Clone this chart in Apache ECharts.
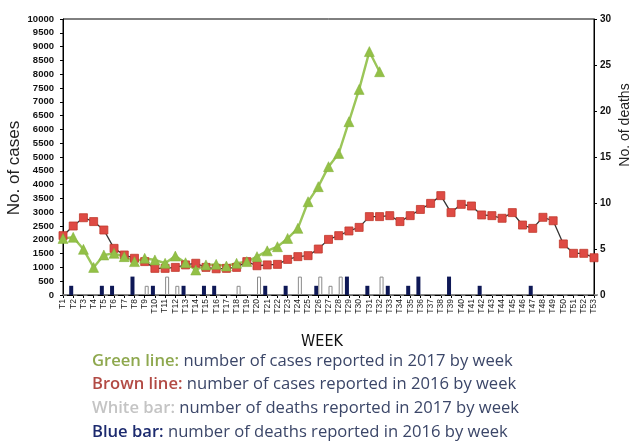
<!DOCTYPE html>
<html><head><meta charset="utf-8">
<script src="https://cdn.jsdelivr.net/npm/echarts@6/dist/echarts.min.js"></script>
<style>html,body{margin:0;padding:0;background:#fff}#c{width:636px;height:444px}</style>
</head><body><div id="c"></div>
<script>
const weeks = Array.from({length:53},(_,i)=>'T'+(i+1));
const cases2017 = [2050,2090,1655,1000,1450,1510,1390,1210,1330,1270,1150,1410,1170,905,1090,1110,1050,1150,1210,1390,1600,1750,2050,2415,3380,3925,4650,5130,6280,7450,8820,8090];
const cases2016 = [2150,2500,2800,2660,2355,1690,1450,1330,1210,965,965,1000,1090,1150,1000,950,965,1000,1210,1060,1090,1110,1290,1390,1425,1665,2015,2150,2320,2450,2840,2840,2875,2660,2875,3100,3320,3600,2985,3285,3225,2900,2875,2780,2985,2535,2415,2815,2690,1850,1510,1510,1350];
const deaths2017 = [0,0,0,0,0,0,0,0,1,0,2,1,0,0,0,0,0,1,0,2,0,0,0,2,0,2,1,2,0,0,0,2,0,0,0,0,0,0,0,0,0,0,0,0,0,0,0,0,0,0,0,0,0];
const deaths2016 = [0,1,0,0,1,1,0,2,0,1,0,0,1,0,1,1,0,0,0,0,1,0,1,0,0,1,0,0,2,0,1,0,1,0,1,2,0,0,2,0,0,1,0,0,0,0,1,0,0,0,0,0,0];
const caseTicks = {min:0,max:10000,interval:500};
const deathTicks = {min:0,max:30,interval:5};
const legendLines = [
  ['Green line:', ' number of cases reported in 2017 by week', '#8ea84e'],
  ['Brown line:', ' number of cases reported in 2016 by week', '#b24a44'],
  ['White bar:', ' number of deaths reported in 2017 by week', '#c4c4c4'],
  ['Blue bar:', ' number of deaths reported in 2016 by week', '#1c2a6e']
];

const chart = echarts.init(document.getElementById('c'), null, {renderer:'canvas'});
const graphics = [
  {type:'text', x:14, y:168, rotation:Math.PI/2, style:{text:'No. of cases', font:'17px "Liberation Sans", Arial', fill:'#222', align:'center', verticalAlign:'middle'}},
  {type:'text', x:625, y:125, rotation:Math.PI/2, style:{text:'No. of deaths', font:'14px "Liberation Sans", Arial', fill:'#222', align:'center', verticalAlign:'middle'}},
  {type:'text', x:322, y:342, style:{text:'WEEK', font:'16px "Liberation Sans Narrow", "DejaVu Sans Condensed", sans-serif', fill:'#111', align:'center', verticalAlign:'middle'}}
];
legendLines.forEach((l,i)=>{
  graphics.push({type:'text', x:92, y:361+i*23.7, style:{
    text:'{a|'+l[0]+'}{b|'+l[1]+'}',
    verticalAlign:'middle',
    rich:{
      a:{fill:l[2], font:'600 16.6px "Open Sans", sans-serif'},
      b:{fill:'#3b4668', font:'16.6px "Open Sans", sans-serif'}
    }}});
});

chart.setOption({
  animation:false,
  backgroundColor:'#fff',
  grid:{left:63, right:42, top:19, bottom:149, show:true, borderColor:'#000', borderWidth:1, backgroundColor:'transparent'},
  xAxis:{type:'category', data:weeks, boundaryGap:false,
    axisLine:{lineStyle:{color:'#000', width:1}},
    axisTick:{show:true, length:3, interval:0, lineStyle:{color:'#000'}},
    axisLabel:{interval:0, rotate:90, fontSize:8.5, color:'#222', margin:4, fontFamily:'"Liberation Sans", Arial'}
  },
  yAxis:[
    {type:'value', min:caseTicks.min, max:caseTicks.max, interval:caseTicks.interval, position:'left',
      axisLine:{show:true, lineStyle:{color:'#000'}}, axisTick:{show:true, length:3, lineStyle:{color:'#000'}},
      splitLine:{show:false},
      axisLabel:{fontSize:9.5, fontWeight:'bold', color:'#111', margin:9, fontFamily:'"Liberation Sans", Arial', formatter:v=>String(v)}},
    {type:'value', min:deathTicks.min, max:deathTicks.max, interval:deathTicks.interval, position:'right',
      axisLine:{show:true, lineStyle:{color:'#000'}}, axisTick:{show:true, length:3, lineStyle:{color:'#000'}},
      splitLine:{show:false},
      axisLabel:{fontSize:10, fontWeight:'bold', color:'#111', margin:6, fontFamily:'"Liberation Sans", Arial', formatter:v=>String(v)}}
  ],
  graphic:graphics,
  series:[
    {type:'bar', name:'deaths2016', yAxisIndex:1, data:deaths2016, barWidth:4, barGap:'0%',
      itemStyle:{color:'#0e1856'}},
    {type:'bar', name:'deaths2017', yAxisIndex:1, data:deaths2017, barWidth:4,
      itemStyle:{color:'#fff', borderColor:'#8a8a8a', borderWidth:1}},
    {type:'line', name:'cases2016', yAxisIndex:0, data:cases2016, symbol:'rect', symbolSize:8,
      lineStyle:{color:'#333', width:1.3}, itemStyle:{color:'#de4a44', borderColor:'#c0392b', borderWidth:0.8}},
    {type:'line', name:'cases2017', yAxisIndex:0, data:cases2017, symbol:'triangle', symbolSize:10,
      lineStyle:{color:'#9bc659', width:2.4}, itemStyle:{color:'#93c047', borderColor:'#7fae35', borderWidth:0.5}}
  ]
});
</script></body></html>
